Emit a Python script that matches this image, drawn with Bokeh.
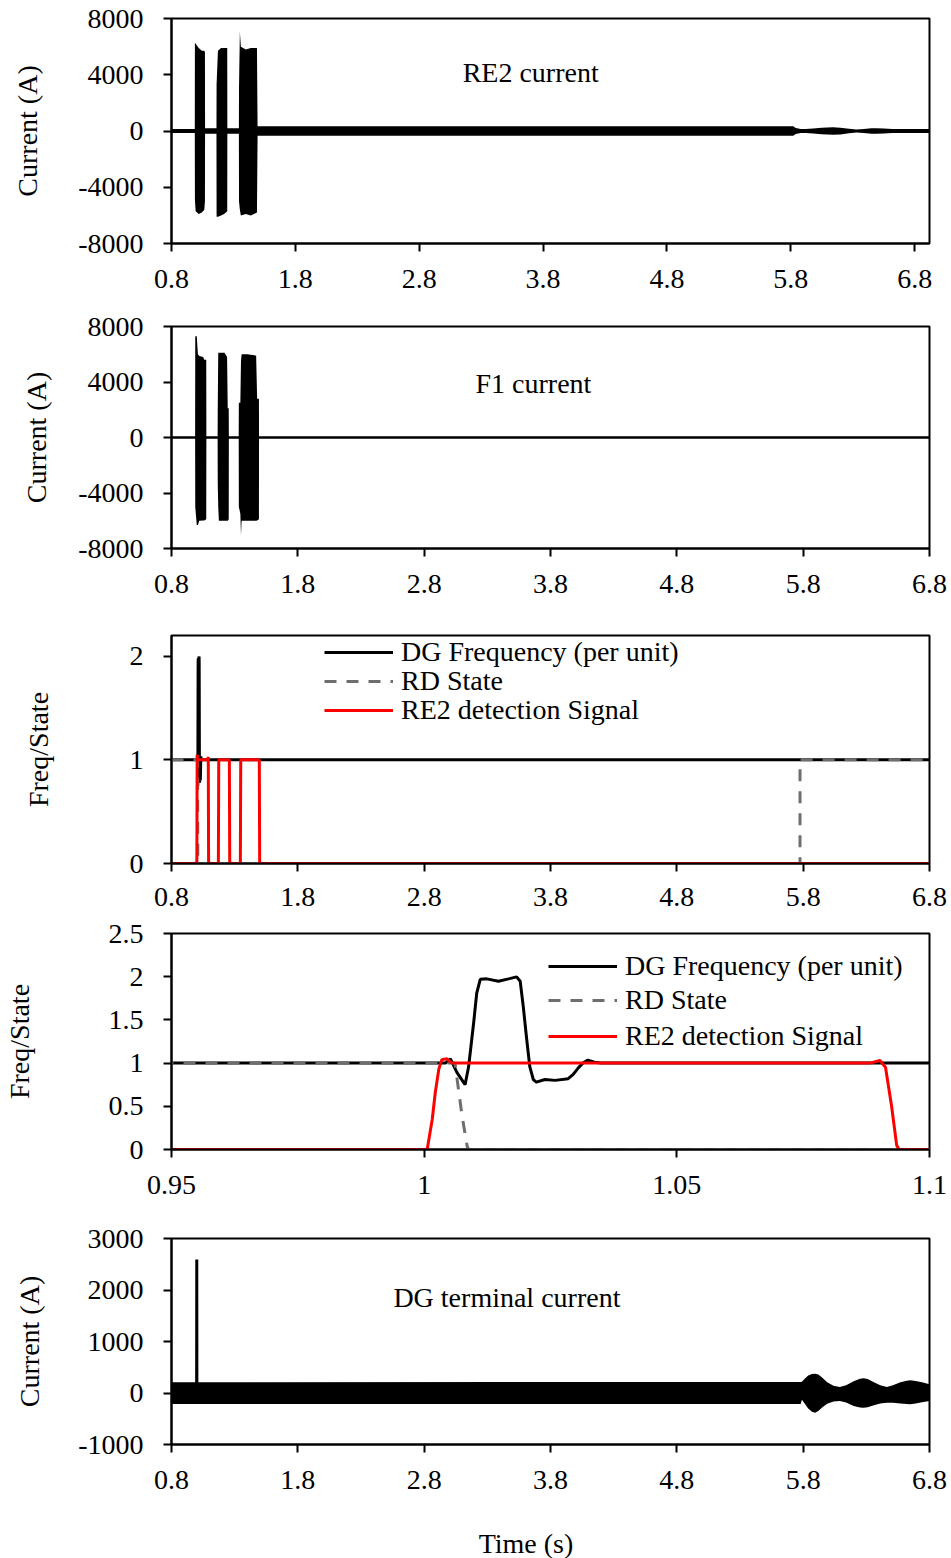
from bokeh.plotting import figure
from bokeh.layouts import column
from bokeh.models import (FixedTicker, CustomJSTickFormatter, Label, Legend, LegendItem,
                          Range1d)
from bokeh.embed import file_html
from bokeh.resources import INLINE

FONT = "Liberation Serif"
FS = "28px"

# ---------------- tick values ----------------
time_ticks = [0.8, 1.8, 2.8, 3.8, 4.8, 5.8, 6.8]
zoom_ticks = [0.95, 1, 1.05, 1.1]
current_ticks = [-8000, -4000, 0, 4000, 8000]
freq_ticks = [0, 1, 2]
zoom_freq_ticks = [0, 0.5, 1, 1.5, 2, 2.5]
dg_ticks = [-1000, 0, 1000, 2000, 3000]

titles = ["RE2 current", "F1 current", "DG terminal current"]
legend_labels = ["DG Frequency (per unit)", "RD State", "RE2 detection Signal"]
x_title = "Time (s)"

# ---------------- RE2 current (envelope of the oscillating waveform) ----------------
re2_t = [0.8, 0.988, 0.989, 0.995, 1.02, 1.045, 1.065, 1.07, 1.071, 1.163,
         1.164, 1.175, 1.2, 1.225, 1.25, 1.251, 1.344,
         1.345, 1.352, 1.36, 1.4, 1.44, 1.49, 1.495,
         5.82, 5.84, 5.88, 5.92, 5.98, 6.05, 6.14, 6.2, 6.27, 6.33, 6.39, 6.45, 6.49,
         6.55, 6.62, 6.7, 6.8, 6.92]
re2_hi = [150, 150, 6300, 6200, 5900, 5700, 5700, 5600, 200, 200,
          3300, 5700, 5900, 5900, 5900, 200, 200,
          3000, 7050, 6000, 5800, 5900, 5900, 330,
          330, 220, 150, 140, 180, 230, 260, 240, 160, 100, 140, 190, 200,
          180, 150, 140, 150, 150]
re2_lo = [-150, -150, -4900, -5700, -5900, -5800, -5600, -5000, -200, -200,
          -6100, -6100, -6000, -5900, -5700, -200, -200,
          -5000, -5600, -6000, -5900, -6000, -5800, -330,
          -330, -220, -150, -140, -180, -230, -260, -240, -160, -100, -140, -190, -200,
          -180, -150, -140, -150, -150]

# ---------------- F1 current ----------------
f1_t = [0.8, 0.987, 0.988, 1.0, 1.009, 1.02, 1.05, 1.06, 1.075, 1.076,
        1.165, 1.166, 1.17, 1.175, 1.22, 1.24, 1.245, 1.253, 1.254,
        1.332, 1.333, 1.345, 1.35, 1.355, 1.4, 1.47, 1.478, 1.492, 1.493, 6.8]
f1_hi = [90, 90, 7300, 7300, 6000, 5870, 5800, 5600, 5600, 90,
         90, 2000, 6100, 6100, 6100, 5800, 2100, 2100, 90,
         90, 2500, 2500, 5500, 6000, 6000, 5900, 2800, 2800, 90, 90]
f1_lo = [-90, -90, -5000, -6300, -6300, -6000, -5980, -5980, -5900, -90,
         -90, -3300, -5000, -6000, -6000, -6000, -6000, -5900, -90,
         -90, -5000, -5500, -7050, -6000, -6000, -6000, -5980, -5900, -90, -90]

# ---------------- DG frequency, RD state, RE2 detection signal ----------------
freq_t = [0.8, 1.0042, 1.0052, 1.0065, 1.0081, 1.0088, 1.0098, 1.0104, 1.0111, 1.0124,
          1.0147, 1.0167, 1.0183, 1.0190, 1.0196, 1.0203, 1.0209, 1.0216, 1.0222, 1.0239,
          1.0259, 1.0285, 1.0295, 1.0305, 1.0314, 1.0324, 1.0337, 1.035, 6.8]
freq_v = [1.0, 1.0, 1.05, 0.89, 0.75, 0.96, 1.47, 1.81, 1.97, 1.975,
          1.948, 1.975, 1.998, 1.948, 1.66, 1.27, 0.96, 0.81, 0.78, 0.81,
          0.80, 0.82, 0.87, 0.945, 1.0, 1.034, 1.011, 1.0, 1.0]

rd_t = [0.8, 1.0061, 1.0068, 1.0075, 1.0085, 1.0088, 5.775, 5.7751, 6.8]
rd_v = [1, 1, 0.69, 0.39, 0.04, 0, 0, 1, 1]

red_t = [0.8, 1.0006, 1.0016, 1.0022, 1.0029, 1.0035, 1.0045, 1.0055, 1.0882, 1.0902,
         1.0913, 1.0925, 1.0935, 1.094, 1.171, 1.174, 1.258, 1.261, 1.345, 1.348,
         1.495, 1.498, 6.8]
red_v = [0, 0, 0.35, 0.66, 0.93, 1.04, 1.05, 1.0, 1.0, 1.03,
         0.95, 0.5, 0.05, 0, 0, 1, 1, 0, 0, 1,
         1, 0, 0]

# ---------------- DG terminal current ----------------
dg_t = [0.8, 5.78, 5.79, 5.81, 5.84, 5.87, 5.895, 5.92, 5.95, 5.99, 6.04, 6.09, 6.14,
        6.2, 6.25, 6.278, 6.31, 6.36, 6.41, 6.463, 6.51, 6.57, 6.62, 6.648, 6.69, 6.74, 6.8]
dg_hi = [210, 215, 220, 270, 340, 370, 375, 360, 300, 210, 140, 116, 150,
         230, 275, 285, 270, 210, 150, 116, 150, 210, 240, 246, 235, 210, 171]
dg_lo = [-215, -215, -130, -200, -300, -365, -382, -350, -280, -210, -165, -155, -185,
         -250, -280, -285, -275, -240, -205, -188, -190, -205, -215, -219, -205, -180, -155]
spike_t = [0.999, 1.0, 1.001]
spike_v = [0, 2590, 0]

GRAY = "#6e6e6e"
RED = "#ff0000"
W = 948
MBL = 170
MBR = 19


def make_fig(height, mbt, mbb, xr, yr, xticks, yticks, ylabel, ylab_standoff, xstand=18):
    p = figure(width=W, height=height, x_range=Range1d(*xr), y_range=Range1d(*yr),
               output_backend="svg", toolbar_location=None, title=None,
               min_border_left=MBL, min_border_right=MBR,
               min_border_top=mbt, min_border_bottom=mbb)
    p.grid.visible = False
    p.outline_line_color = "black"
    p.outline_line_width = 2
    p.outline_line_alpha = 1
    p.background_fill_color = "white"
    p.border_fill_color = "white"
    for ax in (p.xaxis[0], p.yaxis[0]):
        ax.axis_line_width = 2
        ax.axis_line_color = "black"
        ax.major_tick_line_width = 2
        ax.major_tick_line_color = "black"
        ax.major_tick_out = 8
        ax.major_tick_in = 0
        ax.minor_tick_line_color = None
        ax.major_label_text_font = FONT
        ax.major_label_text_font_size = FS
        ax.major_label_text_color = "black"
        ax.axis_label_text_font = FONT
        ax.axis_label_text_font_size = FS
        ax.axis_label_text_font_style = "normal"
        ax.axis_label_text_color = "black"
        ax.formatter = CustomJSTickFormatter(code="return String(tick);")
    p.xaxis[0].ticker = FixedTicker(ticks=xticks)
    p.yaxis[0].ticker = FixedTicker(ticks=yticks)
    p.xaxis[0].major_label_standoff = xstand
    p.yaxis[0].major_label_standoff = 20
    p.yaxis[0].axis_label = ylabel
    p.yaxis[0].axis_label_standoff = ylab_standoff
    return p


def add_text(p, x, y, text):
    p.add_layout(Label(x=x, y=y, text=text, text_align="center", text_baseline="middle",
                       text_font=FONT, text_font_size=FS, text_color="black"))


def add_legends(p, renderers, vx, vys):
    for lab, r, vy in zip(legend_labels, renderers, vys):
        lg = Legend(items=[LegendItem(label=lab, renderers=[r])], location=(vx, vy),
                    glyph_width=69, glyph_height=20, label_standoff=8, padding=0, margin=0,
                    spacing=0, border_line_color=None, background_fill_alpha=0,
                    label_text_font=FONT, label_text_font_size=FS, label_text_color="black")
        p.add_layout(lg)


# Panel 1: RE2 current
p1 = make_fig(300, 18, 57, (0.8, 6.92), (-8000, 8000), time_ticks, current_ticks,
              "Current (A)", 32)
p1.varea(x=re2_t, y1=re2_lo, y2=re2_hi, fill_color="black")
add_text(p1, 3.70, 4170, titles[0])

# Panel 2: F1 current
p2 = make_fig(310, 26, 62, (0.8, 6.8), (-8000, 8000), time_ticks, current_ticks,
              "Current (A)", 23)
p2.varea(x=f1_t, y1=f1_lo, y2=f1_hi, fill_color="black")
add_text(p2, 3.665, 3926, titles[1])

# Panel 3: frequency / state, full time span
p3 = make_fig(308, 25, 55, (0.8, 6.8), (0, 2.2), time_ticks, freq_ticks,
              "Freq/State", 73, xstand=16)
r31 = p3.line(freq_t, freq_v, line_color="black", line_width=3)
r32 = p3.line(rd_t, rd_v, line_color=GRAY, line_width=3, line_dash="12 10")
r33 = p3.line(red_t, red_v, line_color=RED, line_width=3)
add_legends(p3, [r31, r32, r33], 153, [195, 166, 137])

# Panel 4: zoom 0.95 - 1.1 s
p4 = make_fig(288, 15, 57, (0.95, 1.1), (0, 2.5), zoom_ticks, zoom_freq_ticks,
              "Freq/State", 71)
r41 = p4.line(freq_t, freq_v, line_color="black", line_width=3)
r42 = p4.line(rd_t, rd_v, line_color=GRAY, line_width=3, line_dash="12 10")
r43 = p4.line(red_t, red_v, line_color=RED, line_width=3)
add_legends(p4, [r41, r42, r43], 377, [167, 133, 97])

# Panel 5: DG terminal current
p5 = make_fig(295, 32, 57, (0.8, 6.8), (-1000, 3000), time_ticks, dg_ticks,
              "Current (A)", 30)
p5.varea(x=dg_t, y1=dg_lo, y2=dg_hi, fill_color="black")
p5.line(spike_t, spike_v, line_color="black", line_width=3)
add_text(p5, 3.455, 1862, titles[2])

# Shared x-axis title strip (same time scale as the panels above)
p6 = figure(width=W, height=57, x_range=Range1d(0.8, 6.8), y_range=Range1d(0, 57),
            output_backend="svg", toolbar_location=None, title=None,
            x_axis_type=None, y_axis_type=None,
            min_border_left=MBL, min_border_right=MBR, min_border_top=0, min_border_bottom=0)
p6.grid.visible = False
p6.outline_line_color = None
p6.background_fill_color = "white"
p6.border_fill_color = "white"
add_text(p6, 3.606, 15, x_title)

layout = column(p1, p2, p3, p4, p5, p6, spacing=0)
open("out.html", "w").write(file_html(layout, INLINE))
